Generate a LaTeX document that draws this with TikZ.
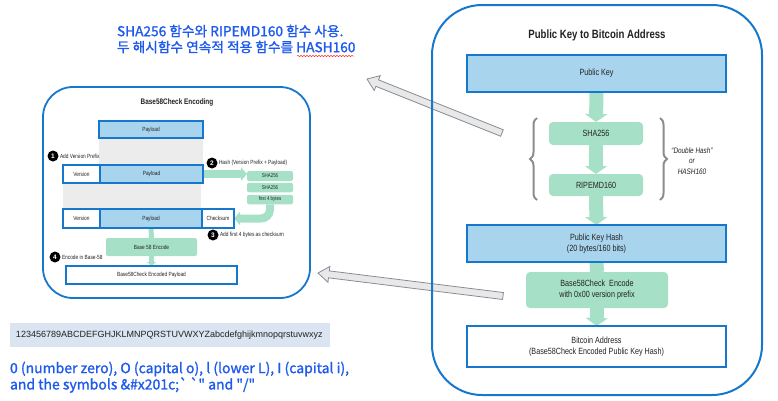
\documentclass[tikz,border=0pt]{standalone}
\usepackage{fontspec}
\setmainfont{Liberation Sans}
\newfontfamily\cnd[FakeStretch=0.8]{Liberation Sans}
\newfontfamily\kr[FakeBold=1.3]{Noto Sans CJK KR}
\usetikzlibrary{calc,arrows.meta,decorations.pathreplacing,decorations.pathmorphing}
\pgfdeclarelayer{bg}
\pgfsetlayers{bg,main}
\definecolor{bline}{RGB}{22,120,205}
\definecolor{lblue}{RGB}{169,212,238}
\definecolor{mint}{RGB}{166,225,199}
\definecolor{bgray}{RGB}{236,236,236}
\definecolor{kblue}{RGB}{30,90,235}
\definecolor{agray}{RGB}{232,232,232}
\definecolor{aline}{RGB}{135,140,150}
\definecolor{alphabg}{RGB}{219,228,241}
\definecolor{brgray}{RGB}{140,140,140}
\definecolor{txt}{RGB}{34,34,34}
\newcommand\fsz[2]{\fontsize{#1}{#2}\selectfont}
\newcommand\blockarrow[2]{%
  \path coordinate (bah) at ($(#2)!11pt!(#1)$);
  \draw[blockar] ($(#1)!3.5pt!90:(#2)$) -- ($(bah)!3.5pt!90:(#2)$) -- ($(bah)!8pt!90:(#2)$) -- (#2) -- ($(bah)!8pt!-90:(#2)$) -- ($(bah)!3.5pt!-90:(#2)$) -- ($(#1)!3.5pt!-90:(#2)$) -- cycle;}
\begin{document}
\begin{tikzpicture}[x=1pt,y=-1pt,
  every node/.style={inner sep=0pt, outer sep=0pt},
  panel/.style={draw=bline, line width=2pt},
  bigblue/.style={draw=bline, fill=lblue, line width=2pt, align=center, text=txt, font=\cnd\fsz{9}{11}},
  bigwhite/.style={draw=bline, fill=white, line width=2pt, align=center, text=txt, font=\cnd\fsz{9}{11}},
  bigmint/.style={fill=mint, rounded corners=4pt, align=center, text=txt, font=\cnd\fsz{9}{11}},
  smblue/.style={draw=bline, fill=lblue, line width=1.5pt, align=center, text=txt, font=\cnd\fsz{6}{7}},
  smwhite/.style={draw=bline, fill=white, line width=1.5pt, align=center, text=txt, font=\cnd\fsz{6}{7}},
  smmint/.style={fill=mint, rounded corners=2pt, align=center, text=txt, font=\cnd\fsz{5.5}{6.5}},
  steplbl/.style={anchor=west, text=txt, font=\cnd\fsz{6}{7}},
  stepdot/.style={circle, fill=black, minimum size=11pt, text=white, font=\bfseries\fsz{6.5}{6.5}},
  garrow/.style={draw=mint, line width=14pt, -{Triangle[width=22pt,length=8pt]}},
  gshaft/.style={draw=mint, line width=14pt},
  garrowS/.style={draw=mint, line width=8pt, -{Triangle[width=13pt,length=6pt]}},
  garrowT/.style={draw=mint, line width=5pt, -{Triangle[width=9pt,length=4pt]}},
  gshaftT/.style={draw=mint, line width=5pt},
  blockar/.style={draw=aline, fill=agray, line width=0.8pt, line join=miter},
  bracestyle/.style={draw=brgray, line width=2pt, decorate, decoration={brace, amplitude=7pt}},
  ktext/.style={anchor=west, text=kblue, font=\kr\fsz{13.7}{16}}
]
\useasboundingbox (0,0) rectangle (778,400);

% ---------- Korean heading ----------
\node[ktext] (k1) at (117,31) {SHA256 함수와 RIPEMD160 함수 사용.};
\node[ktext] (k2) at (117,47) {두 해시함수 연속적 적용 함수를 HASH160};
\draw[red!80, line width=0.5pt, decorate, decoration={snake, amplitude=0.7pt, segment length=3pt}] (297,56) -- (354,56);

% ---------- grey block arrows ----------
\coordinate (a1t) at (502,133);
\coordinate (a1p) at (367,79);
\coordinate (a2t) at (503,296);
\coordinate (a2p) at (318,273);
\blockarrow{a1t}{a1p}
\blockarrow{a2t}{a2p}

% ---------- right panel ----------
\draw[panel, rounded corners=50pt] (432,5) rectangle (762,395);
\node[text=txt, font=\cnd\bfseries\fsz{12}{14}] (rtitle) at (597,35) {Public Key to Bitcoin Address};
\node[bigblue, minimum width=259pt, minimum height=37pt] (pk) at (596.5,73.5) {Public Key};
\node[bigmint, minimum width=94pt, minimum height=23pt] (sha) at (596,133.5) {SHA256};
\node[bigmint, minimum width=94pt, minimum height=22pt] (rip) at (596,185) {RIPEMD160};
\node[bigblue, minimum width=259pt, minimum height=37pt] (pkh) at (596.5,243.5) {Public Key Hash\\(20 bytes/160 bits)};
\node[bigmint, minimum width=142pt, minimum height=36pt] (b58) at (597,290) {Base58Check\ \ Encode\\with 0x00 version prefix};
\node[bigwhite, minimum width=259pt, minimum height=41pt] (addr) at (596.5,346.5) {Bitcoin Address\\(Base58Check Encoded Public Key Hash)};
\begin{pgfonlayer}{bg}
\draw[garrow] (pk.south) -- (sha.north);
\draw[garrow] (sha.south) -- (rip.north);
\draw[garrow] (rip.south) -- (pkh.north);
\draw[gshaft] (pkh.south) -- (b58.north);
\draw[garrow] (b58.south) -- (addr.north);
\end{pgfonlayer}
\draw[bracestyle] (537,200) -- (537,118);
\draw[bracestyle] (660,118) -- (660,200);
\node[align=center, text=txt, font=\cnd\itshape\fsz{8}{10.5}] (dh) at (692,161) {“Double Hash”\\or\\HASH160};

% ---------- left panel ----------
\draw[panel, line width=1.8pt, rounded corners=30pt] (43,87) rectangle (310,298);
\node[text=txt, font=\cnd\bfseries\fsz{8}{9}] (ltitle) at (177,102) {Base58Check Encoding};
\node[smblue, minimum width=104pt, minimum height=17pt] (p0) at (151,129.5) {Payload};
\node[smwhite, minimum width=37pt, minimum height=18pt] (v2) at (81.5,174) {Version};
\node[smblue, minimum width=103pt, minimum height=18pt] (p2) at (151.5,174) {Payload};
\node[smwhite, minimum width=37pt, minimum height=19pt] (v3) at (81.5,218.5) {Version};
\node[smblue, line width=2.2pt, minimum width=102pt, minimum height=19pt] (p3) at (151,218.5) {Payload};
\node[smwhite, minimum width=32pt, minimum height=19pt] (c3) at (218,218.5) {Checksum};
\draw[draw=bline, line width=1.5pt] (v3.north west) rectangle (c3.south east);
\draw[draw=bline, line width=1.5pt] (v2.north west) rectangle (p2.south east);
\node[smmint, minimum width=46pt, minimum height=10pt] (s1) at (270,176) {SHA256};
\node[smmint, minimum width=46pt, minimum height=9.5pt] (s2) at (270,187.5) {SHA256};
\node[smmint, minimum width=46pt, minimum height=9.5pt] (f4) at (270,199.5) {first 4 bytes};
\node[smmint, font=\cnd\fsz{6}{7}, minimum width=91pt, minimum height=18pt] (be) at (151.5,247) {Base 58 Encode};
\node[smwhite, minimum width=171pt, minimum height=18pt] (fin) at (151.5,275) {Base58Check Encoded Payload};
\begin{pgfonlayer}{bg}
\fill[bgray] (p0.south west) rectangle (p2.north east);
\fill[bgray] (v2.south west) rectangle ($(p2.south east |- v3.north)+(-2,0)$);
\draw[garrowS] (p2.east) -- (p2.east -| s1.west);
\draw[garrowS, rounded corners=9pt] (f4.south) |- (c3.east);
\draw[gshaftT] (p3.south) -- (be.north);
\draw[garrowT] (be.south) -- (fin.north);
\end{pgfonlayer}
\node[stepdot] (n1) at (53,156) {1};
\node[steplbl] (l1) at ($(n1.east)+(1.5,0)$) {Add Version Prefix};
\node[stepdot] (n2) at (212,163) {2};
\node[steplbl] (l2) at ($(n2.east)+(1.5,0)$) {Hash (Version Prefix + Payload)};
\node[stepdot] (n3) at (213,235) {3};
\node[steplbl] (l3) at ($(n3.east)+(1.5,0)$) {Add first 4 bytes as checksum};
\node[stepdot] (n4) at (55,257) {4};
\node[steplbl] (l4) at ($(n4.east)+(1.5,0)$) {Encode in Base-58};

% ---------- bottom left ----------
\node[fill=alphabg, minimum width=320pt, minimum height=24pt, anchor=west, inner xsep=6pt, text width=308pt, align=left, text=txt, font=\fsz{9}{10}] (alpha) at (10,335) {123456789ABCDEFGHJKLMNPQRSTUVWXYZabcdefghijkmnopqrstuvwxyz};
\node[ktext, font=\kr\fsz{14}{16}] (e1) at (10,369) {0 (number zero), O (capital o), l (lower L), I (capital i),};
\node[ktext, font=\kr\fsz{14}{16}] (e2) at (10,385) {and the symbols \&\#x201c;\char"0060\,\char"0060\char"0022{} and \char"0022/\char"0022};
\end{tikzpicture}
\end{document}
